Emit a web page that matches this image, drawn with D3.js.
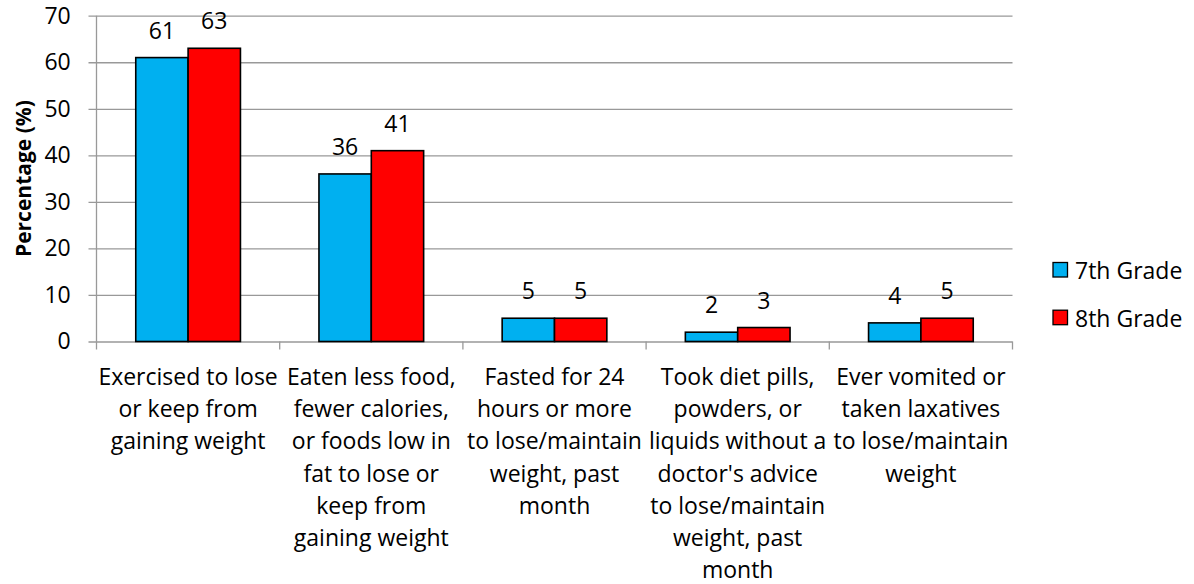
<!DOCTYPE html>
<html>
<head>
<meta charset="utf-8">
<script src="https://cdn.jsdelivr.net/npm/d3@7"></script>
<style>
  body { margin: 0; background: #fff; }
  text { font-family: "Open Sans", sans-serif; fill: #000; }
</style>
</head>
<body>
<div id="chart"></div>
<script>
// data
const categories = [
  ['Exercised to lose', 'or keep from', 'gaining weight'],
  ['Eaten less food,', 'fewer calories,', 'or foods low in', 'fat to lose or', 'keep from', 'gaining weight'],
  ['Fasted for 24', 'hours or more', 'to lose/maintain', 'weight, past', 'month'],
  ['Took diet pills,', 'powders, or', 'liquids without a', "doctor's advice", 'to lose/maintain', 'weight, past', 'month'],
  ['Ever vomited or', 'taken laxatives', 'to lose/maintain', 'weight']
];
const seriesNames = ['7th Grade', '8th Grade'];
const grade7 = [61, 36, 5, 2, 4];
const grade8 = [63, 41, 5, 3, 5];
const yTicks = [0, 10, 20, 30, 40, 50, 60, 70];

const colors = ['#00B0F0', '#FF0000'];
const gridColor = '#999999';

//sizing
const width = 1194, height = 584;
const padL = 96.5, padR = 1012.5, padT = 15.7, padB = 341.5;

const svg = d3.select('#chart').append('svg')
  .attr('width', width)
  .attr('height', height);

//scales
const catIdx = categories.map((c, i) => i);
const x = d3.scaleBand().domain(catIdx).range([padL, padR]).padding(0);
const xs = d3.scaleBand().domain(seriesNames).range([0, x.bandwidth()]).paddingInner(0).paddingOuter(0.75);
const y = d3.scaleLinear().domain([0, 70]).range([padB, padT]);

//gridlines + y tick labels (axis sits on the right so lines reach back past the left axis)
const yAxis = d3.axisLeft(y).tickValues(yTicks).tickSize(padR - padL + 8).tickPadding(17.8);
const yg = svg.append('g')
  .attr('transform', 'translate(' + padR + ',0)')
  .call(yAxis);
yg.select('.domain').remove();
yg.selectAll('line').attr('stroke', gridColor).attr('stroke-width', 1.3);
yg.selectAll('text').style('font-size', '23px').attr('fill', '#000');

//vertical axis line
svg.append('line')
  .attr('x1', padL).attr('x2', padL)
  .attr('y1', padT).attr('y2', padB)
  .attr('stroke', gridColor).attr('stroke-width', 1.3);

//category tick marks
svg.selectAll('.xtick')
  .data(catIdx.concat([categories.length]))
  .enter().append('line')
  .attr('class', 'xtick')
  .attr('x1', d => d < categories.length ? x(d) : padR)
  .attr('x2', d => d < categories.length ? x(d) : padR)
  .attr('y1', padB).attr('y2', padB + 8)
  .attr('stroke', gridColor).attr('stroke-width', 1.3);

//bars
const rows = [];
catIdx.forEach(i => {
  rows.push({ cat: i, s: seriesNames[0], v: grade7[i], c: colors[0] });
  rows.push({ cat: i, s: seriesNames[1], v: grade8[i], c: colors[1] });
});

svg.selectAll('rect.bar')
  .data(rows)
  .enter().append('rect')
  .attr('class', 'bar')
  .attr('x', d => x(d.cat) + xs(d.s))
  .attr('y', d => y(d.v))
  .attr('width', xs.bandwidth())
  .attr('height', d => y(0) - y(d.v))
  .attr('fill', d => d.c)
  .attr('stroke', '#000')
  .attr('stroke-width', 1.6);

//value labels
svg.selectAll('text.val')
  .data(rows)
  .enter().append('text')
  .attr('class', 'val')
  .attr('x', d => x(d.cat) + xs(d.s) + xs.bandwidth() / 2)
  .attr('y', d => y(d.v) - 19)
  .attr('text-anchor', 'middle')
  .style('font-size', '23px')
  .text(d => d.v);

//category labels
const lab = svg.selectAll('text.cat')
  .data(categories)
  .enter().append('text')
  .attr('class', 'cat')
  .attr('text-anchor', 'middle')
  .style('font-size', '23px');
lab.each(function(lines, i) {
  const t = d3.select(this);
  lines.forEach((l, j) => {
    t.append('tspan')
      .attr('x', x(i) + x.bandwidth() / 2)
      .attr('y', 385 + j * 32.2)
      .text(l);
  });
});

//y title
svg.append('text')
  .attr('transform', 'translate(31,' + ((padT + padB) / 2) + ') rotate(-90)')
  .attr('text-anchor', 'middle')
  .style('font-size', '21px')
  .style('font-weight', 'bold')
  .text('Percentage (%)');

//legend
const lg = svg.selectAll('g.leg')
  .data(seriesNames)
  .enter().append('g')
  .attr('class', 'leg')
  .attr('transform', (d, i) => 'translate(1053,' + (262.5 + i * 47.7) + ')');
lg.append('rect')
  .attr('width', 14.5).attr('height', 14.5)
  .attr('fill', (d, i) => colors[i])
  .attr('stroke', '#000').attr('stroke-width', 1.3);
lg.append('text')
  .attr('x', 22)
  .attr('y', 16.5)
  .style('font-size', '23px')
  .text(d => d);
</script>
</body>
</html>
